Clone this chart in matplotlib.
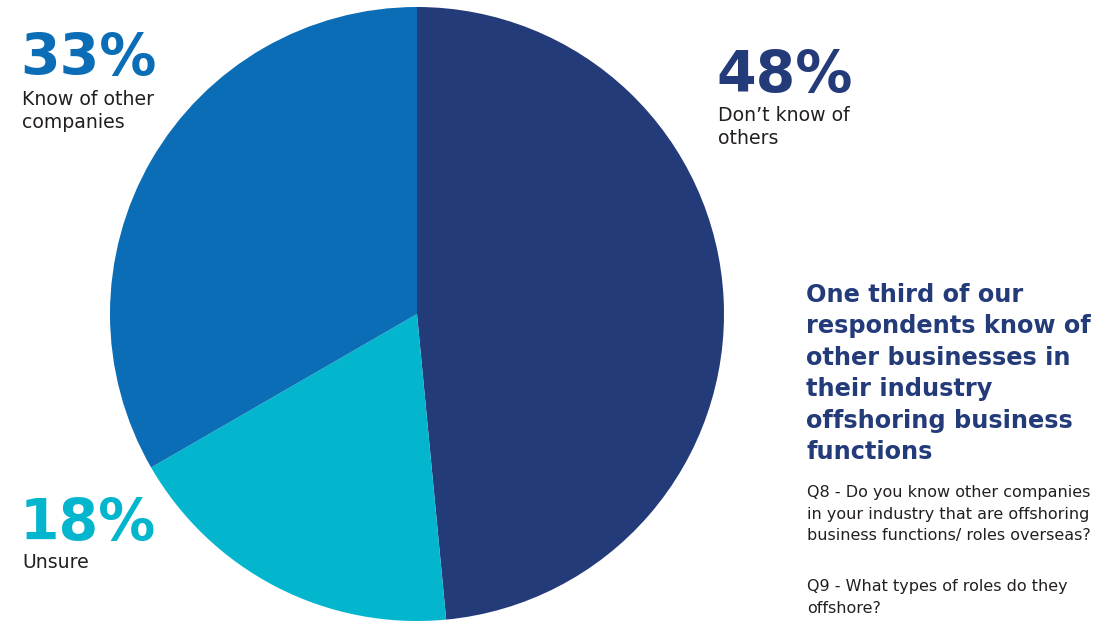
import matplotlib
matplotlib.use("Agg")
import matplotlib.pyplot as plt

# Survey shares, clockwise from 12 o'clock
labels = ["Don\u2019t know of\nothers", "Unsure", "Know of other\ncompanies"]
shares = [48, 18, 33]
colors = ["#243b7a", "#03b6cd", "#0b6db6"]

headline = ("One third of our\nrespondents know of\nother businesses in\n"
            "their industry\noffshoring business\nfunctions")
question_q8 = ("Q8 - Do you know other companies\nin your industry that are offshoring\n"
               "business functions/ roles overseas?")
question_q9 = "Q9 - What types of roles do they\noffshore?"

W, H = 1100, 622
fig = plt.figure(figsize=(W / 100, H / 100), dpi=100)
fig.patch.set_facecolor("white")

# pie axes: centre (417, 314) px, radius 307 px
cx, cy, r = 417, 314, 307
ax = fig.add_axes([(cx - r) / W, (H - cy - r) / H, 2 * r / W, 2 * r / H])
ax.pie(shares, colors=colors, startangle=90, counterclock=False,
       wedgeprops=dict(linewidth=0))
ax.set_xlim(-1, 1)
ax.set_ylim(-1, 1)
ax.set_aspect("equal")
ax.axis("off")


def px(x, y):
    return x / W, (H - y) / H


text_dark = "#231f20"
big = dict(fontsize=41, fontweight="heavy", family="DejaVu Sans", va="baseline")
small = dict(fontsize=13.6, color=text_dark, family="DejaVu Sans", va="top",
             linespacing=1.3, fontweight="medium")

# percentage callouts
fig.text(*px(20, 75), f"{shares[2]}%", color=colors[2], **big)
fig.text(*px(22, 90), labels[2], **small)

fig.text(*px(716, 92), f"{shares[0]}%", color=colors[0], **big)
fig.text(*px(718, 106), labels[0], **small)

fig.text(*px(20, 540), f"{shares[1]}%", color=colors[1], **big)
fig.text(*px(22, 553), labels[1], **small)

# headline and survey questions
fig.text(*px(806, 283), headline, fontsize=17.3, fontweight="bold", color="#243b7a",
         family="DejaVu Sans", va="top", linespacing=1.39)
fig.text(*px(807, 485), question_q8, fontsize=11.5, color=text_dark,
         family="DejaVu Sans", va="top", linespacing=1.55)
fig.text(*px(807, 579), question_q9, fontsize=11.5, color=text_dark,
         family="DejaVu Sans", va="top", linespacing=1.55)

fig.savefig("out.png", dpi=100, facecolor="white")
